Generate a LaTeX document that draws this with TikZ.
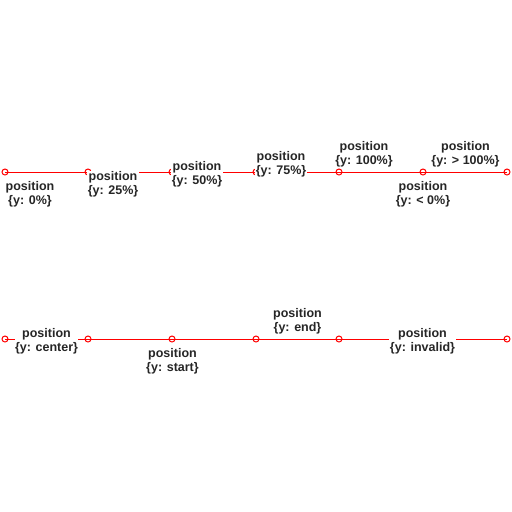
\documentclass[tikz,border=0pt]{standalone}
\usepackage{fontspec}
\setmainfont{Liberation Sans}
\begin{document}
\begin{tikzpicture}[x=1pt,y=-1pt,
  axisline/.style={draw=red,line width=1pt},
  pt/.style={circle,draw=red,line width=1pt,minimum size=6pt,inner sep=0pt},
  lbl/.style={fill=white,inner sep=0.5pt,align=center,text=black!85,font=\fontsize{12.5}{14}\selectfont\bfseries}]
\useasboundingbox (0,0) rectangle (512,512);
% row 1
\coordinate (a1) at (5,172);
\coordinate (a2) at (88,172);
\coordinate (a3) at (172,172);
\coordinate (a4) at (256,172);
\coordinate (a5) at (339,172);
\coordinate (a6) at (423,172);
\coordinate (a7) at (507,172);
\draw[axisline] (a1) -- (a7);
\foreach \i in {1,...,7} \node[pt] (ca\i) at (a\i) {};
\node[lbl] (l0) at (30,194) {position\\\{y: 0\%\}};
\node[lbl] (l25) at (113,184) {position\\\{y: 25\%\}};
\node[lbl] (l50) at (197,174) {position\\\{y: 50\%\}};
\node[lbl] (l75) at (281,164) {position\\\{y: 75\%\}};
\node[lbl] (l100) at (364,154) {position\\\{y: 100\%\}};
\node[lbl] (lneg) at (423,194) {position\\\{y: < 0\%\}};
\node[lbl] (lgt) at (465.5,154) {position\\\{y: > 100\%\}};
% row 2
\coordinate (b1) at (5,339);
\coordinate (b2) at (88,339);
\coordinate (b3) at (172,339);
\coordinate (b4) at (256,339);
\coordinate (b5) at (339,339);
\coordinate (b6) at (423,339);
\coordinate (b7) at (507,339);
\draw[axisline] (b1) -- (b7);
\foreach \i in {1,...,7} \node[pt] (cb\i) at (b\i) {};
\node[lbl] (lc) at (46.5,341) {position\\\{y: center\}};
\node[lbl] (ls) at (172.5,361) {position\\\{y: start\}};
\node[lbl] (le) at (297.5,321) {position\\\{y: end\}};
\node[lbl] (li) at (422.5,341) {position\\\{y: invalid\}};
\end{tikzpicture}
\end{document}
